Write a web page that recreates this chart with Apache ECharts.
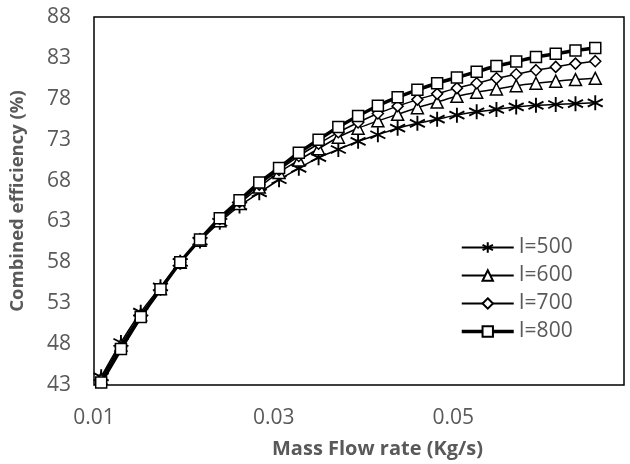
<!DOCTYPE html>
<html>
<head>
<meta charset="utf-8">
<script src="https://cdn.jsdelivr.net/npm/echarts@6/dist/echarts.min.js"></script>
<style>
  html, body { margin: 0; padding: 0; background: #fff; }
  #chart { width: 630px; height: 464px; }
</style>
</head>
<body>
<div id="chart"></div>
<script>
// mass flow rate (kg/s)
const massFlow = [0.0108, 0.0130, 0.0152, 0.0174, 0.0196, 0.0218, 0.0240, 0.0262, 0.0284, 0.0306,
    0.0328, 0.0350, 0.0372, 0.0394, 0.0416, 0.0438, 0.0460, 0.0482, 0.0504, 0.0526,
    0.0548, 0.0570, 0.0592, 0.0614, 0.0636, 0.0658];

// combined efficiency (%) for each irradiance
const eff500 = [44.0, 48.2, 51.9, 55.0, 58.0, 60.6, 62.9, 64.9, 66.5, 68.1, 69.5, 70.8, 71.8,
    72.8, 73.6, 74.4, 75.0, 75.5, 76.0, 76.4, 76.7, 77.0, 77.2, 77.3, 77.4, 77.5];
const eff600 = [43.8, 47.9, 51.6, 54.8, 58.0, 60.7, 63.1, 65.2, 67.2, 69.0, 70.5, 71.9, 73.3,
    74.4, 75.3, 76.1, 76.9, 77.6, 78.3, 78.8, 79.2, 79.6, 79.9, 80.15, 80.35, 80.5];
const eff700 = [43.6, 47.6, 51.4, 54.7, 58.0, 60.8, 63.3, 65.4, 67.5, 69.3, 71.0, 72.5, 73.9,
    75.1, 76.2, 77.1, 77.9, 78.6, 79.3, 79.9, 80.5, 81.0, 81.5, 81.9, 82.3, 82.6];
const eff800 = [43.3, 47.4, 51.3, 54.7, 58.0, 60.8, 63.4, 65.6, 67.75, 69.55, 71.4, 73.0, 74.55,
    75.9, 77.15, 78.2, 79.1, 79.9, 80.6, 81.3, 82.0, 82.55, 83.1, 83.5, 83.9, 84.2];

const seriesNames = ['I=500', 'I=600', 'I=700', 'I=800'];

const chart = echarts.init(document.getElementById('chart'));
const font = 'Open Sans';
const grey = '#595959';

// asterisk marker like Excel's star marker
const asterisk = 'path://M5,0L5,10M0.67,2.5L9.33,7.5M9.33,2.5L0.67,7.5';

const pairs = ys => ys.map((y, i) => [massFlow[i], y]);

const makeSeries = (name, ys, symbol, size, lineWidth, markerStroke) => ({
    name: name,
    type: 'line',
    data: pairs(ys),
    symbol: symbol,
    symbolSize: size,
    showAllSymbol: true,
    smooth: 0.3,
    lineStyle: { color: '#000', width: lineWidth },
    itemStyle: { color: '#fff', borderColor: '#000', borderWidth: markerStroke },
    emphasis: { disabled: true },
});

const option = {
    backgroundColor: '#fff',
    animation: false,
    grid: {
        left: 91, right: 6, top: 17, bottom: 78,
        show: true,
        borderColor: '#000',
        borderWidth: 1.5,
    },
    legend: {
        orient: 'vertical',
        left: 455,
        top: 232,
        itemWidth: 52,
        itemHeight: 13,
        itemGap: 7,
        data: [
            { name: 'I=500' },
            { name: 'I=600' },
            { name: 'I=700' },
            { name: 'I=800', lineStyle: { width: 3.5 } },
        ],
        textStyle: { color: grey, fontSize: 21, fontFamily: font, lineHeight: 21 },
    },
    xAxis: {
        type: 'value',
        min: 0.01,
        max: 0.069,
        interval: 0.02,
        name: 'Mass Flow rate (Kg/s)',
        nameLocation: 'middle',
        nameGap: 54,
        nameTextStyle: {
            color: grey, fontSize: 20, fontWeight: 'bold', fontFamily: font,
            padding: [0, 0, 0, 37],
        },
        axisLine: { show: false },
        axisTick: { show: false },
        splitLine: { show: false },
        axisLabel: {
            color: grey, fontSize: 21, fontFamily: font, margin: 23,
            showMaxLabel: false,
            formatter: v => v.toFixed(2),
        },
    },
    yAxis: {
        type: 'value',
        min: 43,
        max: 88,
        interval: 5,
        name: 'Combined efficiency (%)',
        nameLocation: 'middle',
        nameGap: 67,
        nameTextStyle: { color: grey, fontSize: 18.5, fontWeight: 'bold', fontFamily: font },
        axisLine: { show: false },
        axisTick: { show: false },
        splitLine: { show: false },
        axisLabel: { color: grey, fontSize: 21, fontFamily: font, margin: 23 },
    },
    series: [
        makeSeries(seriesNames[0], eff500, asterisk, 15, 1.5, 1.9),
        makeSeries(seriesNames[1], eff600, 'triangle', 12, 1.5, 1.5),
        makeSeries(seriesNames[2], eff700, 'diamond', 11, 1.5, 1.5),
        makeSeries(seriesNames[3], eff800, 'rect', 11, 3.5, 1.5),
    ],
};

chart.setOption(option);
</script>
</body>
</html>
